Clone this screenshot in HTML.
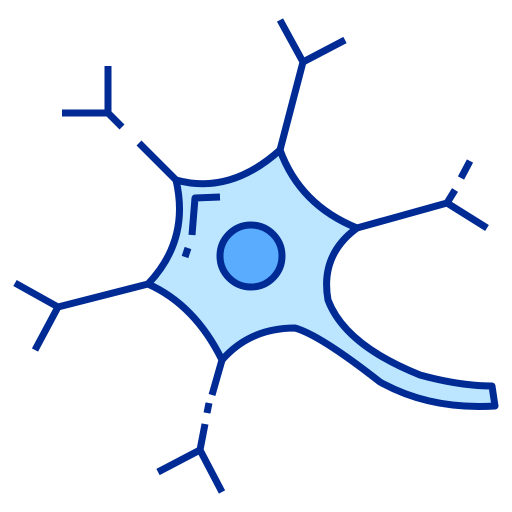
<!DOCTYPE html>
<html><head><meta charset="utf-8"><style>html,body{margin:0;padding:0;background:#fff}svg{display:block}</style></head>
<body>
<svg width="512" height="512" viewBox="0 0 512 512" fill="none" stroke="#002a94" stroke-width="7" stroke-linecap="butt" stroke-linejoin="round">
<g>
<path d="M280,150 L303,62 M303,62 L280,20 M303,62 L345,40"/>
<path d="M108,66 L108,113 L62,113 M108,113 L122,127 M139,143 L176,180"/>
<path d="M357,228 L447,203 L487,228 M447,203 L455,190 M461,178 L470,161"/>
<path d="M148,284 L58,307 L15,283 M58,307 L35,350"/>
<path d="M222,360 L212,395 M209,403 L207,413 M205,424 L200,450 L158,472 M200,450 L222,492"/>
</g>
<path fill="#bce6ff" d="M176,180 Q230,195 280,150 Q300,205 357,228 Q320,255 328,300 Q345,345 420,375 Q460,386 492,386 L495,406 Q430,410 380,382 Q320,335 295,328 Q250,328 222,360 Q195,305 148,284 Q190,240 176,180 Z"/>
<path d="M220,197 L195,198 L192,235 M188,248 L185,257"/>
<circle cx="251" cy="256" r="31" fill="#5aacff"/>
</svg>
</body></html>
